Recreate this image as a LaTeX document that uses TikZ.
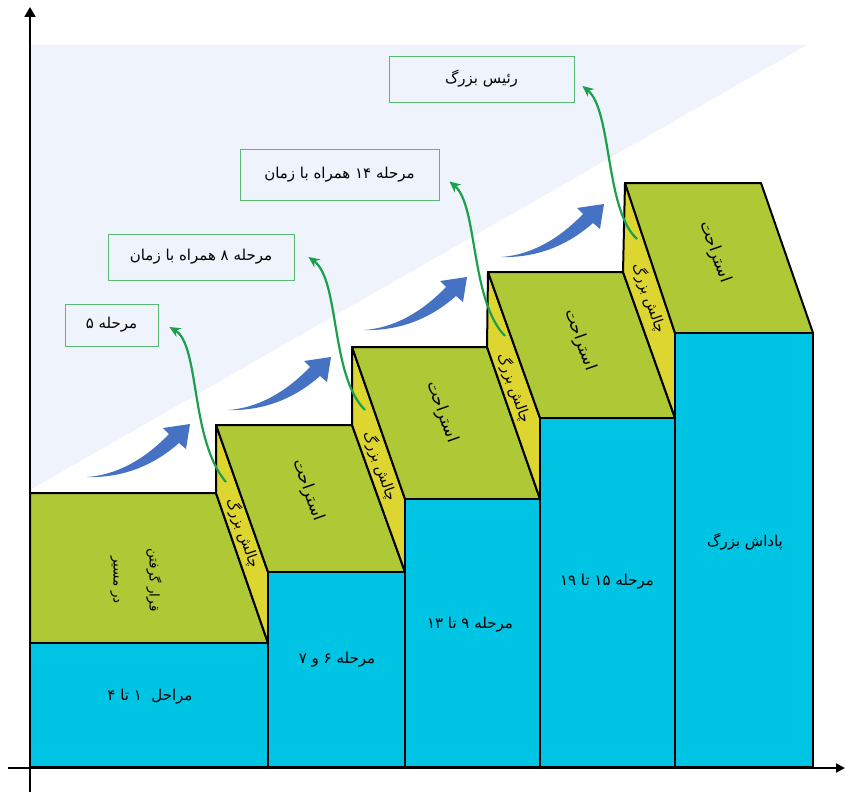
\documentclass[tikz,border=0pt]{standalone}
\usepackage{fontspec}
\newfontfamily\arabicfont[Script=Arabic]{DejaVu Sans}
\TeXXeTstate=1
\usepackage{xcolor}
\usetikzlibrary{arrows.meta}

\newcommand{\fatxt}[1]{{\arabicfont\beginR #1\endR}}

\definecolor{stepblue}{RGB}{0,196,228}
\definecolor{stepgreen}{RGB}{175,200,54}
\definecolor{stepyellow}{RGB}{221,214,48}
\definecolor{arrowgreen}{RGB}{26,160,76}
\definecolor{boxgreen}{RGB}{90,185,115}
\definecolor{skyback}{RGB}{239,243,251}
\definecolor{growblue}{RGB}{70,114,196}

\begin{document}
\begin{tikzpicture}[
      x=1pt, y=-1pt,
      face/.style={draw=black, line width=2pt, line join=round},
      topface/.style={face, fill=stepgreen},
      riser/.style={face, fill=stepyellow},
      front/.style={face, fill=stepblue},
      txt/.style={font=\fontsize{15}{18}\selectfont, align=center, inner sep=1pt},
      slant/.style={txt, font=\fontsize{16.5}{19}\selectfont, rotate=-70.5},
      narrow/.style={slant, font=\fontsize{14.5}{17}\selectfont},
      stage/.style={txt, draw=boxgreen, line width=0.9pt},
      garrow/.style={->, draw=arrowgreen, line width=2.2pt},
      axis/.style={->, line width=2pt},
      growarrow/.pic={
        \fill[growblue] (0,0) .. controls (30,-2) and (58,-18) .. (82,-43)
          -- (76,-49) -- (103,-53) -- (99,-28) -- (92,-34)
          .. controls (66,-11) and (35,1) .. (0,0) -- cycle;},
      >={Stealth[length=11pt,width=10pt]}]

    \useasboundingbox (0,0) rectangle (845,792);

    % light band behind the stairs
    \fill[skyback] (30,45) -- (807,45) -- (30,490) -- cycle;

    % stairs
    \draw[topface] (30,493) -- (216,493) -- (268,643) -- (30,643) -- cycle;
    \draw[front] (30,643) rectangle (268,767);

    \draw[riser] (216,493) -- (216,425) -- (268,572) -- (268,643) -- cycle;
    \draw[topface] (216,425) -- (352,425) -- (405,572) -- (268,572) -- cycle;
    \draw[front] (268,572) rectangle (405,767);

    \draw[riser] (352,425) -- (352,347) -- (405,499) -- (405,572) -- cycle;
    \draw[topface] (352,347) -- (487,347) -- (540,499) -- (405,499) -- cycle;
    \draw[front] (405,499) rectangle (540,767);

    \draw[riser] (487,347) -- (488,272) -- (540,418) -- (540,499) -- cycle;
    \draw[topface] (488,272) -- (623,272) -- (675,418) -- (540,418) -- cycle;
    \draw[front] (540,418) rectangle (675,767);

    \draw[riser] (623,272) -- (625,183) -- (675,333) -- (675,418) -- cycle;
    \draw[topface] (625,183) -- (761,183) -- (813,333) -- (675,333) -- cycle;
    \draw[front] (675,333) rectangle (813,767);

    % axes
    \draw[axis, >={Triangle[length=10pt,width=11pt]}] (30,792) -- (30,7);
    \draw[axis, >={Triangle[length=9pt,width=9pt]}] (8,768) -- (845,768);

    % texts on the stairs
    \node[txt, font=\fontsize{13.5}{16}\selectfont, rotate=-90] (start) at (136,580)
      {\fatxt{قرار گرفتن}\\[20pt]\fatxt{در مسیر}};
    \node[txt] (f1) at (150,697) {\fatxt{مراحل\ \ ۱ تا ۴}};

    \node[narrow] (c2) at (243,533) {\fatxt{چالش بزرگ}};
    \node[slant] (r2) at (308,490) {\fatxt{استراحت}};
    \node[txt] (f2) at (337,660) {\fatxt{مرحله ۶ و ۷}};

    \node[narrow] (c3) at (380,466) {\fatxt{چالش بزرگ}};
    \node[slant] (r3) at (442,412) {\fatxt{استراحت}};
    \node[txt] (f3) at (470,625) {\fatxt{مرحله ۹ تا \beginL۱۳\endL}};

    \node[narrow] (c4) at (514,388) {\fatxt{چالش بزرگ}};
    \node[slant] (r4) at (580,340) {\fatxt{استراحت}};
    \node[txt] (f4) at (607,582) {\fatxt{مرحله \beginL۱۵\endL{} تا \beginL۱۹\endL}};

    \node[narrow] (c5) at (649,298) {\fatxt{چالش بزرگ}};
    \node[slant] (r5) at (715,252) {\fatxt{استراحت}};
    \node[txt] (f5) at (745,542) {\fatxt{پاداش بزرگ}};

    % stage boxes
    \node[stage, minimum width=93pt, minimum height=42pt] (st5) at (111.5,325)
      {\fatxt{مرحله ۵}};
    \node[stage, minimum width=186pt, minimum height=46pt] (st8) at (201,257)
      {\fatxt{مرحله ۸ همراه با زمان}};
    \node[stage, minimum width=199pt, minimum height=51pt] (st14) at (339.5,174.5)
      {\fatxt{مرحله \beginL۱۴\endL{} همراه با زمان}};
    \node[stage, minimum width=185pt, minimum height=46pt] (boss) at (481.5,79)
      {\fatxt{رئیس بزرگ}};

    % growth arrows
    \pic at (87,477) {growarrow};
    \pic at (228,410) {growarrow};
    \pic at (364,330) {growarrow};
    \pic at (501,257) {growarrow};

    % from each challenge to its stage
    \coordinate (g2) at (226,482);
    \coordinate (g3) at (365,410);
    \coordinate (g4) at (505,336);
    \coordinate (g5) at (637,239);

    \draw[garrow] (g2) .. controls (190,440) and (200,345) .. ([xshift=11pt,yshift=-2pt]st5.east);
    \draw[garrow] (g3) .. controls (330,375) and (340,280) .. ([xshift=14pt]st8.east);
    \draw[garrow] (g4) .. controls (470,300) and (478,205) .. ([xshift=10pt,yshift=-7pt]st14.east);
    \draw[garrow] (g5) .. controls (605,210) and (612,110) .. ([xshift=8pt,yshift=-7pt]boss.east);
  \end{tikzpicture}
\end{document}
